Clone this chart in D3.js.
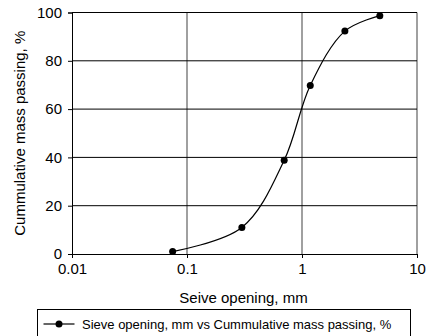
<!DOCTYPE html>
<html>
<head>
<meta charset="utf-8">
<script src="https://cdn.jsdelivr.net/npm/d3@7"></script>
<style>
  body { margin: 0; background: #fff; }
  text { font-family: "Liberation Sans", Arial, sans-serif; fill: #000; }
</style>
</head>
<body>
<div id="chart"></div>
<script>
// Data
const sieveSizes = [0.075, 0.3, 0.7, 1.18, 2.36, 4.75];
const massPassing = [1, 11, 38.8, 69.8, 92.3, 98.7];
const xTicks = [0.01, 0.1, 1, 10];
const yTicks = [0, 20, 40, 60, 80, 100];
const xTitle = "Seive opening, mm";
const yTitle = "Cummulative mass passing, %";
const legendLabel = "Sieve opening, mm vs Cummulative mass passing, %";

const data = sieveSizes.map((s, i) => ({ size: s, pass: massPassing[i] }));

const W = 427, H = 336;
const margin = { top: 12.5, right: 10, bottom: 82, left: 72 };
const width = W - margin.left - margin.right;
const height = H - margin.top - margin.bottom;

const svg = d3.select("#chart").append("svg")
    .attr("width", W)
    .attr("height", H);

const g = svg.append("g")
    .attr("transform", `translate(${margin.left},${margin.top})`);

// Scales
const x = d3.scaleLog().domain([0.01, 10]).range([0, width]);
const y = d3.scaleLinear().domain([0, 100]).range([height, 0]);

// Vertical gridlines (grey)
g.selectAll(".vgrid")
    .data(xTicks.slice(1))
    .join("line")
    .attr("x1", d => x(d)).attr("x2", d => x(d))
    .attr("y1", 0).attr("y2", height)
    .attr("stroke", "#808080")
    .attr("stroke-width", 1.5);

// Horizontal gridlines (black)
g.selectAll(".hgrid")
    .data(yTicks.slice(1))
    .join("line")
    .attr("x1", 0).attr("x2", width)
    .attr("y1", d => y(d)).attr("y2", d => y(d))
    .attr("stroke", "#000")
    .attr("stroke-width", 1);

// Axes
const yAxis = g.append("g")
    .call(d3.axisLeft(y).tickValues(yTicks).tickSize(4).tickPadding(6).tickFormat(d3.format("d")));
yAxis.select(".domain").attr("stroke", "#000");
yAxis.selectAll("text").style("font-size", "15px");

const xAxis = g.append("g")
    .attr("transform", `translate(0,${height})`)
    .call(d3.axisBottom(x).tickValues(xTicks).tickSize(4).tickPadding(5).tickFormat(d => String(d)));
xAxis.select(".domain").attr("stroke", "#000");
xAxis.selectAll("text").style("font-size", "15px");

// Axis titles
g.append("text")
    .attr("x", width / 2 - 1)
    .attr("y", height + 49)
    .attr("text-anchor", "middle")
    .style("font-size", "15px")
    .text(xTitle);

g.append("text")
    .attr("transform", "rotate(-90)")
    .attr("x", -height / 2)
    .attr("y", -47)
    .attr("text-anchor", "middle")
    .style("font-size", "15px")
    .text(yTitle);

// Curve
const line = d3.line()
    .x(d => x(d.size))
    .y(d => y(d.pass))
    .curve(d3.curveCatmullRom.alpha(0.5));

g.append("path")
    .datum(data)
    .attr("fill", "none")
    .attr("stroke", "#000")
    .attr("stroke-width", 1.2)
    .attr("d", line);

g.selectAll(".dot")
    .data(data)
    .join("circle")
    .attr("cx", d => x(d.size))
    .attr("cy", d => y(d.pass))
    .attr("r", 3.5)
    .attr("fill", "#000");

// Legend
const legend = svg.append("g").attr("transform", "translate(37.5,309.5)");
legend.append("rect")
    .attr("width", 373).attr("height", 30)
    .attr("fill", "#fff").attr("stroke", "#000");
legend.append("line")
    .attr("x1", 6).attr("x2", 37).attr("y1", 14.5).attr("y2", 14.5)
    .attr("stroke", "#000").attr("stroke-width", 1.2);
legend.append("circle")
    .attr("cx", 21.5).attr("cy", 14.5).attr("r", 3.5).attr("fill", "#000");
legend.append("text")
    .attr("x", 44.5).attr("y", 19)
    .style("font-size", "13px")
    .text(legendLabel);
</script>
</body>
</html>
